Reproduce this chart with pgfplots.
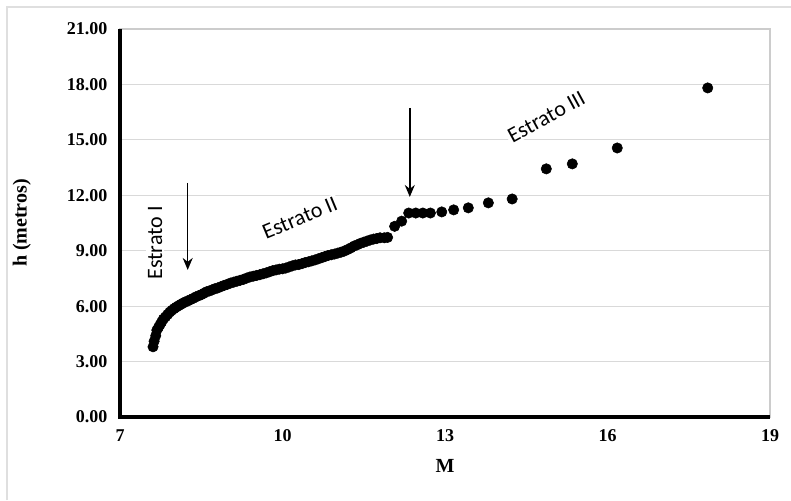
\documentclass[border=0pt]{standalone}
\usepackage{fontspec}
\setmainfont{Liberation Serif}
\newfontfamily\calibri{Carlito}
\usepackage{pgfplots}
\pgfplotsset{compat=1.18}
\usetikzlibrary{arrows.meta}
\begin{document}
\begin{tikzpicture}
\useasboundingbox (0,0) rectangle (593.25pt,375pt);
\draw[gray!25, line width=1.3pt] (5.25pt,0) -- (5.25pt,369.75pt) -- (593.25pt,369.75pt);
\begin{axis}[
  scale only axis, width=487.5pt, height=291pt,
  at={(90pt,62.25pt)}, anchor=south west,
  xmin=7, xmax=19, ymin=0, ymax=21,
  xtick={7,10,13,16,19}, ytick={0,3,6,9,12,15,18,21},
  ymajorgrids, grid style={draw=gray!30, line width=0.9pt},
  axis line style={draw=gray!40, line width=1pt},
  major tick length=0pt,
  /pgf/number format/assume math mode=true,
  tick label style={font=\bfseries\fontsize{13.5}{15}\selectfont},
  y tick label style={/pgf/number format/.cd, fixed, fixed zerofill, precision=2, /tikz/.cd, xshift=-6pt},
  x tick label style={yshift=-6pt},
  xlabel={M}, ylabel={h (metros)},
  label style={font=\bfseries\fontsize{15}{17}\selectfont},
  xlabel style={at={(axis description cs:0.5,-0.126)}, anchor=center},
  ylabel style={at={(axis description cs:-0.151,0.5)}, anchor=center},
  clip=false,
]
\addplot[only marks, mark=*, mark size=3.9pt, black] coordinates {
(7.61,3.80) (7.63,4.10) (7.66,4.40) (7.68,4.70) (7.71,4.85) (7.74,5.00)
(7.77,5.15) (7.80,5.30) (7.84,5.42) (7.88,5.55) (7.92,5.68) (7.96,5.78)
(8.00,5.87) (8.04,5.95) (8.08,6.02) (8.12,6.09) (8.16,6.16) (8.20,6.22)
(8.25,6.28) (8.30,6.35) (8.35,6.42) (8.40,6.50) (8.45,6.56) (8.50,6.62)
(8.55,6.70) (8.60,6.78) (8.65,6.82) (8.70,6.88) (8.75,6.94) (8.80,6.98)
(8.86,7.05) (8.92,7.12) (8.98,7.18) (9.04,7.25) (9.10,7.30) (9.16,7.35)
(9.22,7.40) (9.28,7.45) (9.34,7.52) (9.40,7.58) (9.46,7.62) (9.52,7.66)
(9.58,7.70) (9.64,7.75) (9.70,7.80) (9.76,7.86) (9.82,7.92) (9.88,7.96)
(9.94,8.00) (10.00,8.02) (10.06,8.06) (10.12,8.12) (10.18,8.18) (10.24,8.23)
(10.30,8.25) (10.36,8.30) (10.42,8.36) (10.48,8.40) (10.54,8.45) (10.60,8.50)
(10.66,8.56) (10.72,8.62) (10.78,8.68) (10.84,8.74) (10.90,8.78) (10.96,8.82)
(11.02,8.87) (11.08,8.92) (11.14,8.98) (11.20,9.06) (11.26,9.15) (11.32,9.25)
(11.38,9.32) (11.44,9.40) (11.50,9.46) (11.56,9.52) (11.62,9.58) (11.68,9.63)
(11.74,9.66) (11.80,9.70) (11.88,9.70) (11.94,9.72) (12.07,10.32) (12.20,10.60)
(12.33,11.04) (12.46,11.04) (12.59,11.04) (12.73,11.04) (12.94,11.10) (13.16,11.21)
(13.43,11.32) (13.80,11.59) (14.24,11.80) (14.87,13.43) (15.35,13.70) (16.18,14.56)
(17.85,17.81)
};
\node[font=\calibri\fontsize{16.5}{18}\selectfont, rotate=90, fill=white, inner sep=1.5pt] at (axis cs:7.65,9.42) {Estrato I};
\node[font=\calibri\fontsize{16.5}{18}\selectfont, rotate=22.5, fill=white, inner sep=1.5pt] at (axis cs:10.32,10.77) {Estrato II};
\node[font=\calibri\fontsize{16.5}{18}\selectfont, rotate=28.5, fill=white, inner sep=1.5pt] at (axis cs:14.87,16.24) {Estrato III};
\draw[-{Stealth[length=9pt,width=7.5pt]}, line width=1.1pt] (axis cs:8.25,12.67) -- (axis cs:8.25,7.96);
\draw[-{Stealth[length=9pt,width=7.5pt]}, line width=1.1pt] (axis cs:12.35,16.73) -- (axis cs:12.35,11.91);
\draw[black, line width=2.4pt] (rel axis cs:0,1) -- (rel axis cs:0,0) -- (rel axis cs:1,0);
\end{axis}
\end{tikzpicture}
\end{document}
